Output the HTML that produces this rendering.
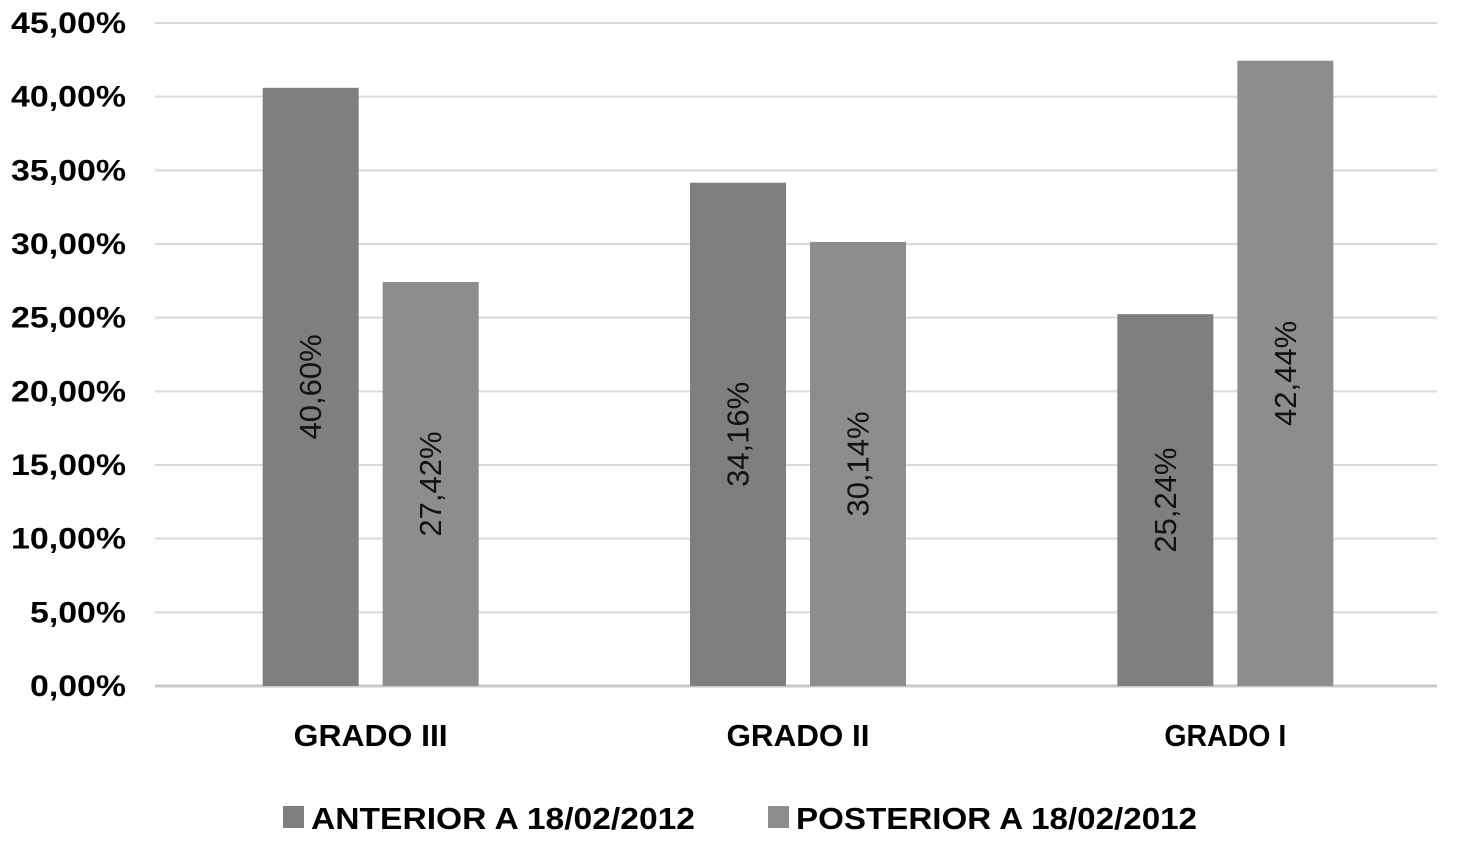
<!DOCTYPE html>
<html><head><meta charset="utf-8"><style>
body{margin:0;background:#fff;}
svg text{font-family:"Liberation Sans",Arial,sans-serif;}
</style></head><body>
<svg id="chart" width="1457" height="852" viewBox="0 0 1457 852" xmlns="http://www.w3.org/2000/svg">
<g id="grid"></g><g id="bars"></g><g id="labels"></g>
<g>
<rect x="283" y="806" width="21" height="22" fill="#7f7f7f"/>
<text x="311" y="829" font-size="31" font-weight="bold" textLength="384" lengthAdjust="spacingAndGlyphs">ANTERIOR A 18/02/2012</text>
<rect x="768" y="806" width="21" height="22" fill="#8d8d8d"/>
<text x="796" y="829" font-size="31" font-weight="bold" textLength="401" lengthAdjust="spacingAndGlyphs">POSTERIOR A 18/02/2012</text>
</g>
</svg>
<script>
const categories=["GRADO III","GRADO II","GRADO I"];
const anterior=[40.60,34.16,25.24];
const posterior=[27.42,30.14,42.44];
const yTicks=[0,5,10,15,20,25,30,35,40,45];
const NS="http://www.w3.org/2000/svg";
const x0=157,x1=1439,y0=686,y45=23;
const y=v=>y0-(v/45)*(y0-y45);
const cw=(x1-x0)/categories.length;
const cx=i=>x0+cw*(i+0.5);
const fmt=v=>v.toFixed(2).replace('.',',')+'%';
function mk(tag,attrs,parent){const e=document.createElementNS(NS,tag);for(const k in attrs)e.setAttribute(k,attrs[k]);parent.appendChild(e);return e;}
const grid=document.getElementById('grid'),bars=document.getElementById('bars'),labels=document.getElementById('labels');
yTicks.forEach(t=>{
 const l=mk('line',{x1:155,x2:1437,y1:y(t),y2:y(t),stroke:t===0?'#c8c8c8':'#d9d9d9','stroke-width':t===0?3:2},grid);
 
 
 const s=t.toFixed(2).replace('.',',')+'%';
 const tx=mk('text',{x:126,y:y(t)+10,'text-anchor':'end','font-size':30,'font-weight':'bold',textLength:s.length===5?96:115,lengthAdjust:'spacingAndGlyphs'},labels);
 tx.textContent=s;
 
 
});
const bw=96,gap=24;
categories.forEach((c,i)=>{
 [[anterior,'#7f7f7f',-1,'anterior'],[posterior,'#8d8d8d',1,'posterior']].forEach(([arr,col,s,nm])=>{
  const bx=cx(i)+(s<0?-(bw+gap/2):gap/2);
  const r=mk('rect',{x:bx,y:y(arr[i]),width:bw,height:y0-y(arr[i]),fill:col},bars);
  
  
  const mx=bx+bw/2,my=(y(arr[i])+y0)/2;
  const t=mk('text',{x:mx,y:my,'text-anchor':'middle','dominant-baseline':'central','font-size':31,fill:'#111',transform:`rotate(-90 ${mx} ${my})`},labels);
  t.textContent=fmt(arr[i]);
  
  
 });
 const lens=[154,143,122];
 const ct=mk('text',{x:cx(i),y:746,'text-anchor':'middle','font-size':31,'font-weight':'bold',textLength:lens[i],lengthAdjust:'spacingAndGlyphs'},labels);
 ct.textContent=c;
 
 
});
</script>
</body></html>
